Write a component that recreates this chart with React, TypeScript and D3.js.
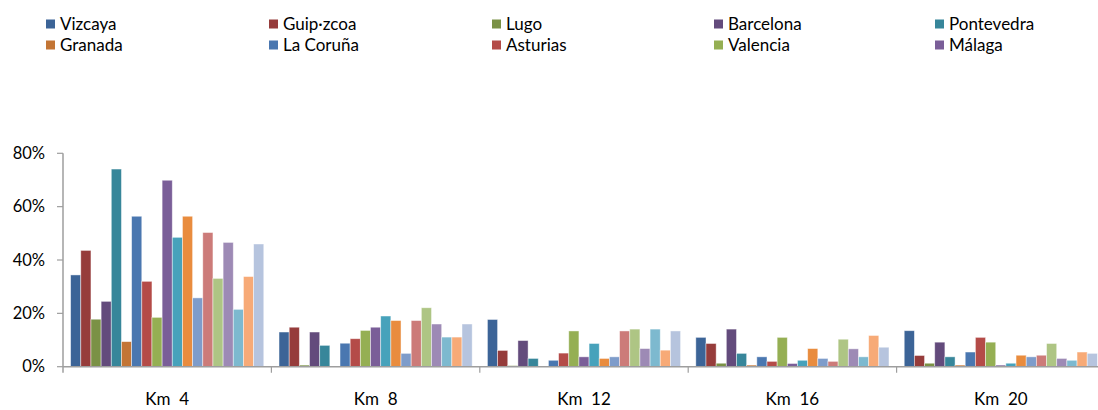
import React, { useEffect, useRef } from 'react';
import * as d3 from 'd3';

// --- Data ---
const categories = ['Km  4', 'Km  8', 'Km  12', 'Km  16', 'Km  20'];

// only the first 10 series appear in the legend
const legendNames = ['Vizcaya', 'Guip·zcoa', 'Lugo', 'Barcelona', 'Pontevedra',
  'Granada', 'La Coruña', 'Asturias', 'Valencia', 'Málaga'];

const seriesColors = [
  '#3C6497', '#963C3B', '#7A9145', '#634B7C', '#37869A', '#C37535',
  '#4A77B0', '#B44B48', '#95AF53', '#7A5E98', '#47A2BB', '#E98C3E',
  '#7E9CCA', '#CC7B79', '#AEC584', '#9D8AB5', '#7DB9CF', '#F7AA77', '#B6C4DE',
];

// values per series, in % (one entry per category)
const s01 = [34.4, 13.0, 17.7, 11.0, 13.5];
const s02 = [43.6, 14.8, 6.1, 8.7, 4.2];
const s03 = [17.8, 0.6, 0.4, 1.3, 1.3];
const s04 = [24.5, 13.0, 9.8, 14.1, 9.2];
const s05 = [74.1, 8.0, 3.1, 5.0, 3.7];
const s06 = [9.4, 0, 0, 0.6, 0.6];
const s07 = [56.4, 8.8, 2.4, 3.7, 5.5];
const s08 = [32.0, 10.5, 5.1, 2.0, 11.0];
const s09 = [18.5, 13.6, 13.4, 11.0, 9.2];
const s10 = [69.9, 14.8, 3.7, 1.2, 0.6];
const s11 = [48.5, 19.0, 8.7, 2.4, 1.3];
const s12 = [56.4, 17.3, 3.1, 6.8, 4.3];
const s13 = [25.8, 5.0, 3.7, 3.1, 3.7];
const s14 = [50.3, 17.3, 13.4, 2.0, 4.3];
const s15 = [33.1, 22.1, 14.1, 10.3, 8.7];
const s16 = [46.6, 16.0, 6.8, 6.7, 3.1];
const s17 = [21.5, 11.1, 14.1, 3.7, 2.4];
const s18 = [33.8, 11.1, 6.2, 11.7, 5.5];
const s19 = [46.0, 16.0, 13.4, 7.3, 5.0];

const seriesValues = [s01, s02, s03, s04, s05, s06, s07, s08, s09, s10,
  s11, s12, s13, s14, s15, s16, s17, s18, s19];

const yTicks = [0, 20, 40, 60, 80];

const FONT = 'Lato, "Open Sans", sans-serif';

const App: React.FC = () => {
  const svgRef = useRef<SVGSVGElement>(null);

  useEffect(() => {
    if (!svgRef.current) return;
    const svg = d3.select(svgRef.current);
    svg.selectAll('*').remove();

    const left = 63;
    const groupW = 208.4;
    const base = 366.7;
    const top = 153.3;

    const x0 = d3.scaleBand<string>()
      .domain(categories)
      .range([left, left + groupW * categories.length])
      .paddingInner(0)
      .paddingOuter(0);

    const x1 = d3.scaleBand<number>()
      .domain(d3.range(seriesValues.length))
      .range([0, x0.bandwidth()])
      .paddingInner(0)
      .paddingOuter(0.75);

    const y = d3.scaleLinear().domain([0, 80]).range([base, top]);

    // --- Bars ---
    const barsG = svg.append('g');
    categories.forEach((cat, ci) => {
      seriesValues.forEach((vals, si) => {
        const v = vals[ci];
        if (v <= 0) return;
        barsG.append('rect')
          .attr('x', (x0(cat) ?? 0) + (x1(si) ?? 0))
          .attr('y', y(v))
          .attr('width', x1.bandwidth())
          .attr('height', base - y(v))
          .attr('fill', seriesColors[si])
          .attr('stroke', 'rgba(255,255,255,0.55)')
          .attr('stroke-width', 0.8);
      });
    });

    // --- Axes ---
    const axisColor = '#9E9E9E';
    svg.append('line')
      .attr('x1', left).attr('x2', left)
      .attr('y1', top).attr('y2', base + 6)
      .attr('stroke', axisColor).attr('stroke-width', 1.5);
    svg.append('line')
      .attr('x1', left).attr('x2', 1098)
      .attr('y1', base).attr('y2', base)
      .attr('stroke', axisColor).attr('stroke-width', 1.5);

    yTicks.forEach((t) => {
      svg.append('line')
        .attr('x1', left - 6).attr('x2', left)
        .attr('y1', y(t)).attr('y2', y(t))
        .attr('stroke', axisColor).attr('stroke-width', 1.2);
      svg.append('text')
        .attr('x', 45)
        .attr('y', y(t))
        .attr('dy', '0.35em')
        .attr('text-anchor', 'end')
        .attr('font-family', FONT)
        .attr('font-size', 16.5)
        .attr('fill', '#000')
        .text(`${t}%`);
    });

    categories.forEach((cat) => {
      const gx = x0(cat) ?? 0;
      if (gx > left) {
        svg.append('line')
          .attr('x1', gx).attr('x2', gx)
          .attr('y1', base).attr('y2', base + 6)
          .attr('stroke', axisColor).attr('stroke-width', 1.2);
      }
      svg.append('text')
        .attr('x', gx + x0.bandwidth() / 2)
        .attr('y', 405)
        .attr('text-anchor', 'middle')
        .attr('font-family', FONT)
        .attr('font-size', 17)
        .attr('fill', '#000')
        .style('white-space', 'pre')
        .attr('xml:space', 'preserve')
        .text(cat);
    });

    // --- Legend (two rows of five) ---
    const legendX = [46, 269, 492, 714, 935];
    const legendY = [24, 45];
    legendNames.forEach((name, i) => {
      const lx = legendX[i % 5];
      const ly = legendY[Math.floor(i / 5)];
      svg.append('rect')
        .attr('x', lx).attr('y', ly - 4.5)
        .attr('width', 9).attr('height', 9)
        .attr('fill', seriesColors[i]);
      svg.append('text')
        .attr('x', lx + 14)
        .attr('y', ly)
        .attr('dy', '0.35em')
        .attr('font-family', FONT)
        .attr('font-size', 17)
        .attr('fill', '#000')
        .text(name);
    });
  }, []);

  return (
    <svg
      ref={svgRef}
      width={1098}
      height={410}
      style={{ position: 'absolute', left: 0, top: 0, background: '#fff' }}
    />
  );
};

export default App;
